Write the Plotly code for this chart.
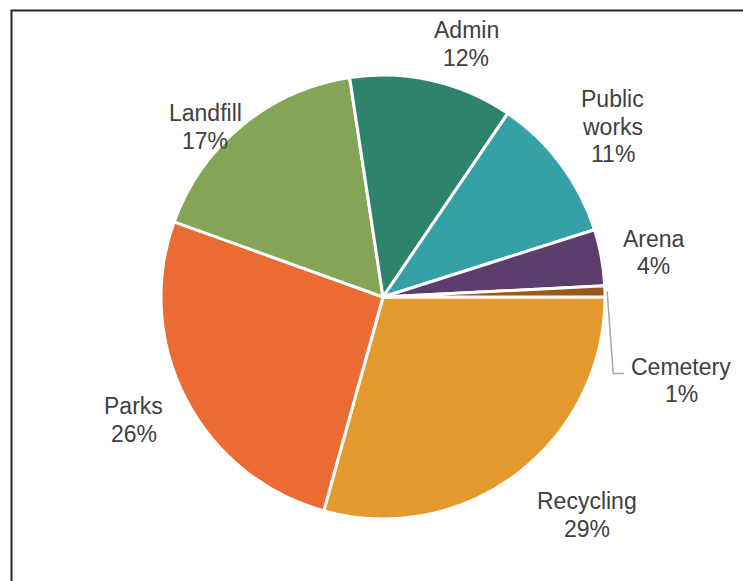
import math
import plotly.graph_objects as go

# Budget share by department (percent)
departments = ["Recycling", "Parks", "Landfill", "Admin", "Public works", "Arena", "Cemetery"]
shares = [29.3, 26.2, 17.1, 11.9, 10.6, 4.1, 0.8]
label_lines = [["Recycling"], ["Parks"], ["Landfill"], ["Admin"], ["Public", "works"], ["Arena"], ["Cemetery"]]

colors = ["#E3992E", "#EA6B34", "#84A556", "#2D836C", "#35A0A6", "#5B3E6E", "#97591C"]

# label placement: radial factor and angular nudge (degrees) from slice middle
label_radius = [1.345, 1.251, 1.108, 1.20, 1.288, 1.237, 1.395]
label_nudge = [5.8, -1.1, 6.9, -5.4, -0.2, -0.9, -17.1]

W, H = 743, 581
CX, CY, R = 383, 297, 222   # pie centre and radius in pixels
START_DEG = 0               # first slice starts at 3 o'clock, runs clockwise
FONT = dict(family="Liberation Sans, Arial, sans-serif", size=23, color="#404040")
LINE_H = 27.5

fig = go.Figure(go.Pie(
    labels=departments,
    values=shares,
    sort=False,
    direction="clockwise",
    rotation=90,
    marker=dict(colors=colors, line=dict(color="white", width=3)),
    textinfo="none",
    hoverinfo="skip",
    showlegend=False,
    domain=dict(x=[(CX - R) / W, (CX + R) / W],
                y=[(H - CY - R) / H, (H - CY + R) / H]),
))


def to_paper(px, py):
    return px / W, 1 - py / H


total = sum(shares)
annotations = []
shapes = []
cum = 0.0
for i, v in enumerate(shares):
    a0 = START_DEG - cum / total * 360
    cum += v
    a1 = START_DEG - cum / total * 360
    mid = (a0 + a1) / 2
    ang = math.radians(mid + label_nudge[i])
    lx = CX + R * label_radius[i] * math.cos(ang)
    ly = CY - R * label_radius[i] * math.sin(ang)
    pct = round(v / total * 100)
    lines = label_lines[i] + [f"{pct}%"]
    n = len(lines)
    x, y = to_paper(lx, ly)
    for j, line in enumerate(lines):
        annotations.append(dict(
            x=x, y=y, xref="paper", yref="paper",
            text=line, showarrow=False,
            xanchor="center", yanchor="middle",
            yshift=((n - 1) / 2 - j) * LINE_H,
            font=FONT,
        ))
    if departments[i] == "Cemetery":
        # leader line from the thin slice to its label
        m = math.radians(mid)
        sx, sy = CX + R * 1.01 * math.cos(m), CY - R * 1.01 * math.sin(m)
        ex, ey = lx - 57, ly - 7
        bx, by = ex - 11, ey
        p = [to_paper(sx, sy), to_paper(bx, by), to_paper(ex, ey)]
        shapes.append(dict(
            type="path", xref="paper", yref="paper",
            path=f"M {p[0][0]},{p[0][1]} L {p[1][0]},{p[1][1]} L {p[2][0]},{p[2][1]}",
            line=dict(color="#A6A6A6", width=1.5),
        ))

# chart frame
shapes.append(dict(
    type="rect", xref="paper", yref="paper",
    x0=11.5 / W, x1=1.05, y0=-0.05, y1=1 - 10.5 / H,
    line=dict(color="#262626", width=2), fillcolor="rgba(0,0,0,0)",
))

fig.update_layout(
    width=W, height=H,
    margin=dict(l=0, r=0, t=0, b=0),
    paper_bgcolor="white",
    plot_bgcolor="white",
    annotations=annotations,
    shapes=shapes,
)

fig.write_html("out.html")
